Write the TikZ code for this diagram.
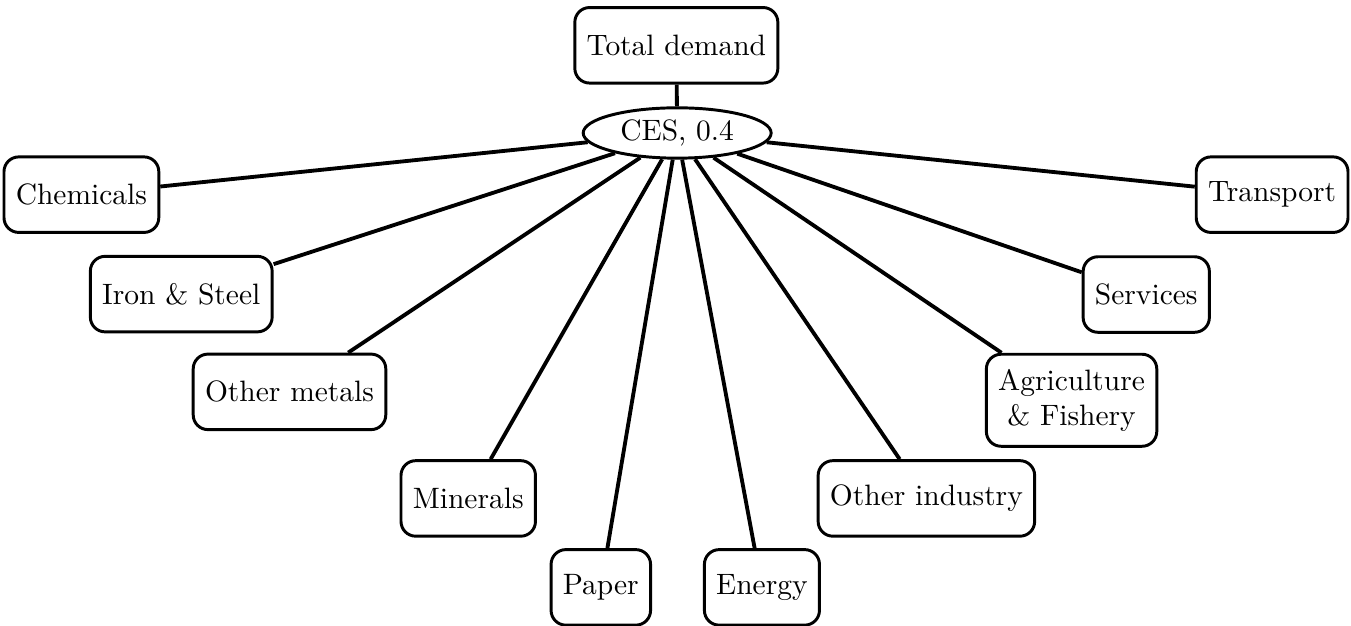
\documentclass[tikz,border=0pt]{standalone}
\usepackage{tikz}
\usetikzlibrary{
    shapes.geometric,
    positioning
}

\begin{document}
\begin{tikzpicture}[
    sector/.style={draw, line width=1pt, rounded corners=5pt, minimum height=0.9cm, inner xsep=4pt, inner ysep=5pt, align=center},
    nest/.style={draw, line width=1pt, ellipse, minimum width=2.24cm, minimum height=0.6cm, inner sep=1pt},
    link/.style={line width=1.3pt}
]
    \useasboundingbox (0, 0) rectangle (16.1, -7.46);
    \node[sector] (td) at (8.06, -0.54) {Total demand};
    \node[nest] (ces) at (8.07, -1.585) {CES, 0.4};
    \node[sector] (chem) at (0.97, -2.32) {Chemicals};
    \node[sector] (iron) at (2.16, -3.505) {Iron \& Steel};
    \node[sector] (ometal) at (3.45, -4.67) {Other metals};
    \node[sector] (miner) at (5.58, -5.94) {Minerals};
    \node[sector] (paper) at (7.16, -7.0) {Paper};
    \node[sector] (energy) at (9.08, -7.0) {Energy};
    \node[sector] (oind) at (11.04, -5.94) {Other industry};
    \node[sector] (agri) at (12.77, -4.77) {Agriculture\\ \& Fishery};
    \node[sector] (serv) at (13.66, -3.51) {Services};
    \node[sector] (trans) at (15.16, -2.32) {Transport};
    \draw[link]
    (td) edge (ces)
    (ces) edge (chem)
    (ces) edge (iron)
    (ces) edge (ometal)
    (ces) edge (miner)
    (ces) edge (paper)
    (ces) edge (energy)
    (ces) edge (oind)
    (ces) edge (agri)
    (ces) edge (serv)
    (ces) edge (trans);
\end{tikzpicture}
\end{document}
